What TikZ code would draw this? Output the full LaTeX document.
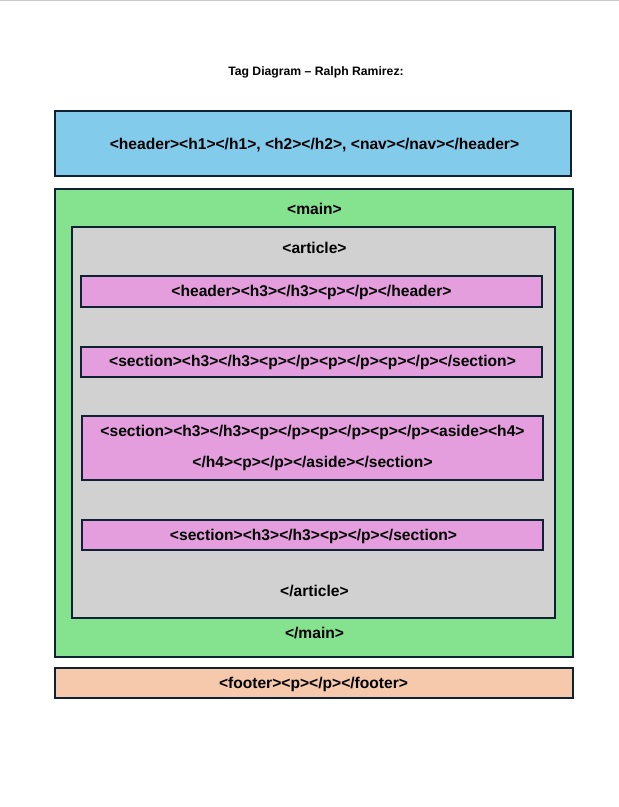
\documentclass[tikz,border=0pt]{standalone}
\usepackage{fontspec}
\setmainfont{Liberation Sans}
\definecolor{edge}{HTML}{0E2234}
\definecolor{hdr}{HTML}{83CBEB}
\definecolor{mainc}{HTML}{85E28F}
\definecolor{artc}{HTML}{D1D1D1}
\definecolor{pinkc}{HTML}{E49EDD}
\definecolor{footc}{HTML}{F6C8AC}
\definecolor{topline}{HTML}{C8C8C8}
\tikzset{
  box/.style={draw=edge, line width=2pt},
  lbl/.style={font=\bfseries\fontsize{15.6}{18}\selectfont, text=black, inner sep=0pt},
  title/.style={font=\bfseries\fontsize{12.2}{14}\selectfont, inner sep=0pt}
}
\begin{document}
\begin{tikzpicture}[x=1pt,y=-1pt]
\useasboundingbox (0,0) rectangle (619,807);
\fill[white] (0,0) rectangle (619,807);
\fill[topline] (0,0) rectangle (619,1.2);
\node[title] (title) at (316,72) {Tag Diagram – Ralph Ramirez:};
% header
\draw[box, fill=hdr] (55,111) rectangle (571,176);
\node[lbl] (hdrtxt) at (314.5,145.5) {<header><h1></h1>, <h2></h2>, <nav></nav></header>};
% main
\draw[box, fill=mainc] (55,189) rectangle (573,657);
\node[lbl] (mainopen) at (314.5,209) {<main>};
\node[lbl] (mainclose) at (314.5,633) {</main>};
% article
\draw[box, fill=artc] (72,227) rectangle (555,618);
\node[lbl] (artopen) at (314.5,248) {<article>};
\node[lbl] (artclose) at (314.5,591) {</article>};
% pink boxes
\draw[box, fill=pinkc] (81,276) rectangle (542,307);
\node[lbl] (s1) at (311.5,292.5) {<header><h3></h3><p></p></header>};
\draw[box, fill=pinkc] (81,347) rectangle (542,377);
\node[lbl] (s2) at (312.5,362.5) {<section><h3></h3><p></p><p></p><p></p></section>};
\draw[box, fill=pinkc] (82,416) rectangle (543,480);
\node[lbl] (s3a) at (312.5,432) {<section><h3></h3><p></p><p></p><p></p><aside><h4>};
\node[lbl] (s3b) at (312.5,463) {</h4><p></p></aside></section>};
\draw[box, fill=pinkc] (82,520) rectangle (543,550);
\node[lbl] (s4) at (313.5,536) {<section><h3></h3><p></p></section>};
% footer
\draw[box, fill=footc] (55,668) rectangle (573,698);
\node[lbl] (foot) at (313.5,684) {<footer><p></p></footer>};
\end{tikzpicture}
\end{document}
